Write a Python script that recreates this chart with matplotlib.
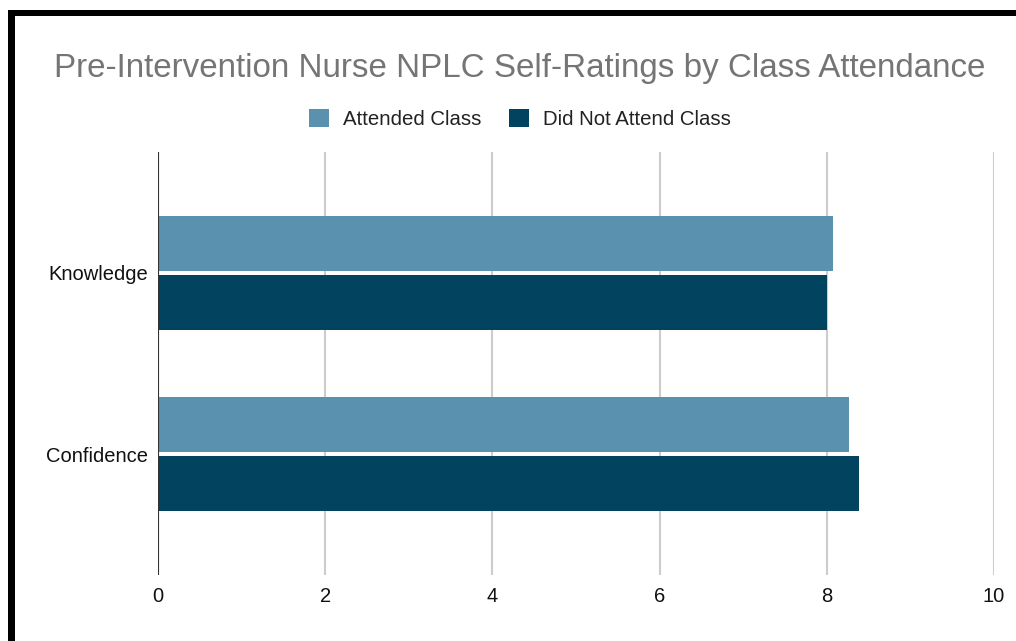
import matplotlib
matplotlib.use("Agg")
import matplotlib.pyplot as plt
import numpy as np
from matplotlib.patches import Patch, Rectangle

plt.rcParams['font.family'] = ['Liberation Sans', 'DejaVu Sans']

categories = ["Knowledge", "Confidence"]
series_names = ["Attended Class", "Did Not Attend Class"]
attended = [8.07, 8.26]
not_attended = [8.0, 8.38]
x_ticks = [0, 2, 4, 6, 8, 10]
colors = ["#5A91AE", "#024460"]
title = "Pre-Intervention Nurse NPLC Self-Ratings by Class Attendance"

W, H = 1016, 641
fig = plt.figure(figsize=(W / 100, H / 100), dpi=100)
fig.patch.set_facecolor("white")

left, right, top, bottom = 158, 994, 152, 575
ax = fig.add_axes([left / W, 1 - bottom / H, (right - left) / W, (bottom - top) / H])

y = np.arange(len(categories))
h = 0.304
off = 0.163
ax.barh(y - off, attended, height=h, color=colors[0], zorder=3)
ax.barh(y + off, not_attended, height=h, color=colors[1], zorder=3)

ax.set_xlim(0, 10)
ax.set_ylim(1.6685, -0.6685)
ax.set_xticks(x_ticks)
ax.set_xticklabels([str(t) for t in x_ticks], fontsize=14.5, color="#111111")
ax.set_yticks(y)
ax.set_yticklabels(categories, fontsize=14.5, color="#111111")
ax.tick_params(axis="both", length=0)
ax.tick_params(axis="y", pad=7)
ax.tick_params(axis="x", pad=9)
for s in ax.spines.values():
    s.set_visible(False)
ax.grid(axis="x", color="#cccccc", linewidth=1.5, zorder=0)
ax.axvline(0, color="#333333", linewidth=1.5, zorder=4)

fig.text(520 / W, 1 - 69 / H, title, ha="center", va="center",
         fontsize=23.9, color="#757575")

handles = [Patch(facecolor=c, edgecolor="none") for c in colors]
fig.legend(handles, series_names, loc="center", bbox_to_anchor=(520 / W, 1 - 119 / H),
           ncol=2, frameon=False, fontsize=14.7, handlelength=0.98, handleheight=0.98,
           handletextpad=0.69, columnspacing=1.37, labelcolor="#222222")

# black border on left and top
fig.add_artist(Rectangle((8 / W, 0), 7 / W, 1 - 10 / H, transform=fig.transFigure,
                         facecolor="black", edgecolor="none"))
fig.add_artist(Rectangle((8 / W, 1 - 16 / H), 1 - 8 / W, 6 / H, transform=fig.transFigure,
                         facecolor="black", edgecolor="none"))

fig.savefig("out.png", dpi=100, facecolor="white")
